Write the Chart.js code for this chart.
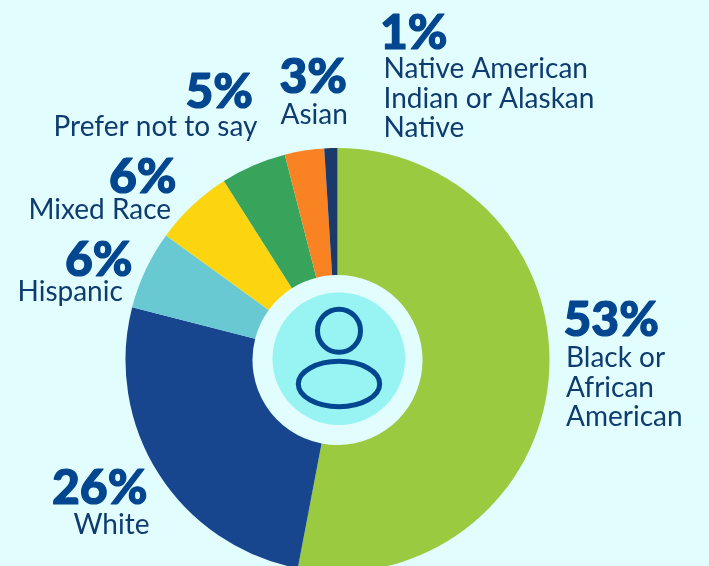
<!DOCTYPE html>
<html><head><meta charset="utf-8">
<style>html,body{margin:0;padding:0;background:#E2FDFE;overflow:hidden}canvas{display:block}</style>
<script src="https://cdn.jsdelivr.net/npm/chart.js@4"></script></head>
<body><div style="width:709px;height:566px"><canvas id="c" width="709" height="566"></canvas></div>
<script>
const categories = ["Black or African American","White","Hispanic","Mixed Race","Prefer not to say","Asian","Native American Indian or Alaskan Native"];
const values = [53,26,6,6,5,3,1];
const colors = ["#9ACA3F","#17468F","#69C9D3","#FCD40F","#38A35B","#F98222","#1B3A6B"];
const labelLines = [["Black or","African","American"],["White"],["Hispanic"],["Mixed Race"],["Prefer not to say"],["Asian"],["Native American","Indian or Alaskan","Native"]];
const labelPlacement = [
 {px:563.5,py:336,lx:566,ly:367},{px:52,py:504,lx:73.5,ly:534},{px:65,py:276,lx:17.5,ly:301},
 {px:109,py:193,lx:28.5,ly:219},{px:185.5,py:108,lx:53.5,ly:136},{px:279.5,py:93,lx:280.5,ly:124},{px:380,py:49,lx:383.5,ly:78}];
const overlay = {
 id:'overlay',
 afterDatasetsDraw(chart){
  const ctx=chart.ctx, arc=chart.getDatasetMeta(0).data[0];
  const cx=arc.x+1.3, cy=arc.y-1.3;
  ctx.save();
  ctx.fillStyle='#98F3F3';ctx.beginPath();ctx.arc(cx,cy,66.3,0,Math.PI*2);ctx.fill();
  ctx.strokeStyle='#02468F';ctx.lineWidth=5;
  ctx.beginPath();ctx.arc(339,330.7,21.5,0,Math.PI*2);ctx.stroke();
  ctx.beginPath();ctx.ellipse(339,384,40.7,22.7,0,0,Math.PI*2);ctx.stroke();
  ctx.textBaseline='alphabetic';ctx.textAlign='left';
  values.forEach((v,i)=>{
   const p=labelPlacement[i];
   ctx.fillStyle='#02468F';ctx.strokeStyle='#02468F';ctx.lineWidth=1.2;ctx.lineJoin='round';
   ctx.font='900 48px Lato';
   ctx.strokeText(v+'%',p.px,p.py);
   ctx.fillText(v+'%',p.px,p.py);
   ctx.fillStyle='#0E3C70';ctx.font='400 28px Lato';
   labelLines[i].forEach((t,j)=>ctx.fillText(t,p.lx,p.ly+j*29.5));
  });
  ctx.restore();
 }
};
new Chart(document.getElementById('c'),{
 type:'doughnut',
 data:{labels:categories,datasets:[{data:values,backgroundColor:colors,borderWidth:0,clip:false}]},
 options:{responsive:false,animation:false,radius:212,cutout:'40.1%',
  layout:{padding:{top:154,bottom:0,left:0,right:34}},
  plugins:{legend:{display:false},tooltip:{enabled:false}}},
 plugins:[overlay]
});
</script></body></html>
